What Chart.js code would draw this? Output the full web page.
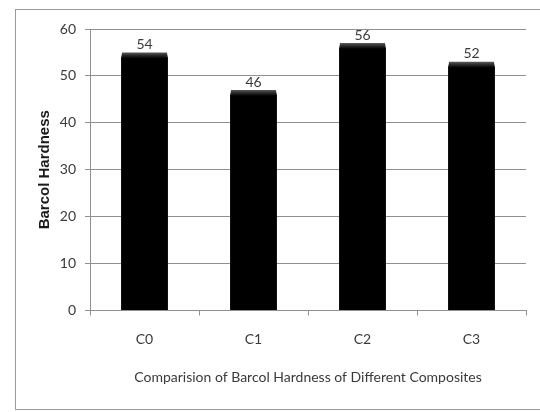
<!DOCTYPE html>
<html>
<head>
<meta charset="utf-8">
<script src="https://cdn.jsdelivr.net/npm/chart.js@4"></script>
<style>
    html, body { margin: 0; padding: 0; background: #fff; overflow: hidden; }
    #frame {
        position: absolute;
        left: 15px;
        top: 9px;
        width: 525px;
        height: 401px;
        box-sizing: border-box;
        border: 1px solid #9a9a9a;
        border-right: none;
    }
    #frame canvas { display: block; }
</style>
</head>
<body>
<div id="frame">
    <canvas id="hardnessChart" width="524" height="399"></canvas>
</div>
<script>
const categories = ['C0', 'C1', 'C2', 'C3'];
const hardness = [54, 46, 56, 52];
const yTicks = [0, 10, 20, 30, 40, 50, 60];

const textColor = '#3a3a3a';
const gridColor = '#909090';

// bevelled top + value label above each bar
const barTops = {
    id: 'barTops',
    afterDatasetsDraw(chart) {
        const ctx = chart.ctx;
        const yScale = chart.scales.y;
        const depth = yScale.getPixelForValue(0) - yScale.getPixelForValue(1);
        const meta = chart.getDatasetMeta(0);

        meta.data.forEach((bar, i) => {
            const half = bar.width / 2;
            const top = bar.y - depth;

            const grad = ctx.createLinearGradient(0, top, 0, bar.y + 1);
            grad.addColorStop(0, '#5a5a5a');
            grad.addColorStop(0.5, '#2a2a2a');
            grad.addColorStop(1, '#050505');

            ctx.save();
            ctx.fillStyle = grad;
            ctx.beginPath();
            ctx.moveTo(bar.x - half + 1, top);
            ctx.lineTo(bar.x + half - 1, top);
            ctx.lineTo(bar.x + half, bar.y + 1);
            ctx.lineTo(bar.x - half, bar.y + 1);
            ctx.closePath();
            ctx.fill();

            ctx.fillStyle = textColor;
            ctx.font = '14px Lato';
            ctx.textAlign = 'center';
            ctx.textBaseline = 'bottom';
            ctx.fillText(String(hardness[i]), bar.x, top - 1);
            ctx.restore();
        });
    }
};

new Chart('hardnessChart', {
    type: 'bar',
    data: {
        labels: categories,
        datasets: [
            {
                label: 'Barcol Hardness',
                data: hardness,
                backgroundColor: '#000000',
                borderWidth: 0,
                barPercentage: 0.43,
                categoryPercentage: 1
            }
        ]
    },
    options: {
        responsive: false,
        animation: false,
        layout: {
            padding: { left: 0, top: 19, right: 14, bottom: 0 }
        },
        plugins: {
            legend: { display: false },
            tooltip: { enabled: false }
        },
        scales: {
            x: {
                grid: {
                    offset: true,
                    drawOnChartArea: false,
                    drawTicks: true,
                    tickLength: 5,
                    color: gridColor
                },
                border: { color: gridColor },
                ticks: {
                    color: textColor,
                    font: { family: 'Lato', size: 14 },
                    padding: 16
                },
                title: {
                    display: true,
                    text: 'Comparision of Barcol Hardness of Different Composites',
                    color: textColor,
                    font: { family: 'Lato', size: 14 },
                    padding: { top: 0, bottom: 23.6 }
                },
                afterFit(scale) {
                    scale.height = 98.5;
                }
            },
            y: {
                min: 0,
                max: 60,
                afterBuildTicks(scale) {
                    scale.ticks = yTicks.map(v => ({ value: v }));
                },
                grid: {
                    color: gridColor,
                    tickLength: 5
                },
                border: { color: gridColor },
                ticks: {
                    color: textColor,
                    font: { family: 'Lato', size: 14 },
                    padding: 9
                },
                title: {
                    display: true,
                    text: 'Barcol Hardness',
                    color: '#1a1a1a',
                    font: { family: 'Liberation Sans', size: 15, weight: 'bold' },
                    padding: { top: 20, bottom: 0 }
                },
                afterFit(scale) {
                    scale.width = 74;
                }
            }
        }
    },
    plugins: [barTops]
});
</script>
</body>
</html>
